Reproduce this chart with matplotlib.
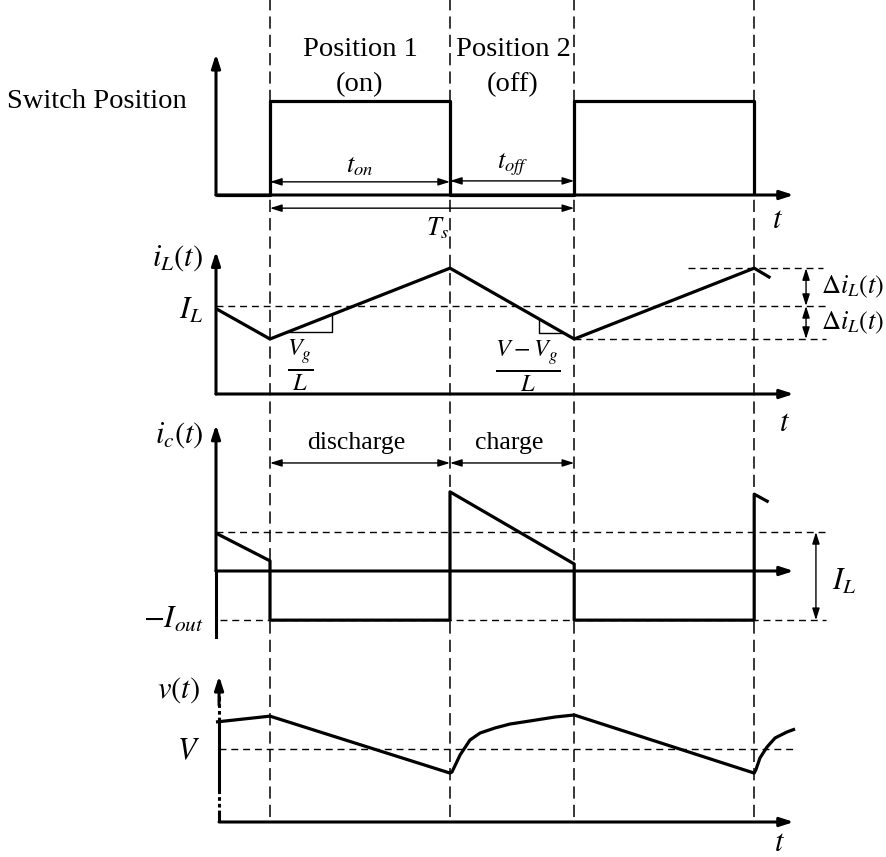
import matplotlib.pyplot as plt
import numpy as np

plt.rcParams['mathtext.fontset'] = 'stix'
plt.rcParams['font.family'] = ['Liberation Serif', 'DejaVu Serif']

W, H = 886, 857

# switching instants, time unit = t_on
edges = [0.3, 1.3, 1.99, 2.99]
t_axis_end = 3.21

# switch position (0 = off, 1 = on)
sw_t = [0.0, 0.3, 0.3, 1.3, 1.3, 1.99, 1.99, 2.99, 2.99]
sw_val = [0, 0, 1, 1, 0, 0, 1, 1, 0]

# inductor current, normalised to I_L
il_t = [0.0, 0.3, 1.3, 1.99, 2.99, 3.08]
il_val = [0.97, 0.625, 1.43, 0.625, 1.43, 1.32]
il_avg, il_max, il_min = 1.0, 1.43, 0.625

# capacitor current, normalised to I_L
ic_t = [0.0, 0.3, 0.3, 1.3, 1.3, 1.99, 1.99, 2.99, 2.99, 3.07]
ic_val = [0.97, 0.26, -1.26, -1.26, 2.03, 0.18, -1.26, -1.26, 1.97, 1.77]
ic_il, ic_iout = 1.0, -1.26

# output voltage, normalised to V
v_t1 = [0.0, 0.3, 1.3, 1.311, 1.356, 1.411, 1.467, 1.55, 1.633, 1.744,
        1.883, 1.99]
v_val1 = [1.37, 1.45, 0.67, 0.685, 0.918, 1.123, 1.219, 1.288, 1.342, 1.384,
          1.438, 1.466]
v_t2 = [1.99, 2.99, 3.0, 3.022, 3.061, 3.106, 3.172, 3.217]
v_val2 = [1.466, 0.67, 0.72, 0.877, 1.027, 1.151, 1.233, 1.274]
v_avg = 1.0

fig = plt.figure(figsize=(W / 100, H / 100), dpi=100)


def panel(base_px, px_per_unit):
    # full-figure transparent axes: time on x, panel units on y
    ax = fig.add_axes([0, 0, 1, 1])
    ax.set_xlim(-216 / 180, (W - 216) / 180)
    ax.set_ylim((base_px - H) / px_per_unit, base_px / px_per_unit)
    ax.set_axis_off()
    ax.patch.set_visible(False)
    return ax


def arrow(ax, p0, p1, lw=2.2, style='-|>,head_length=0.8,head_width=0.26'):
    ax.annotate('', xy=p1, xytext=p0,
                arrowprops=dict(arrowstyle=style, lw=lw, color='k',
                                shrinkA=0, shrinkB=0))


def dbl(ax, p0, p1):
    arrow(ax, p0, p1, lw=1.0,
          style='<|-|>,head_length=0.7,head_width=0.22')


wave = dict(color='k', lw=2.3, solid_joinstyle='round',
            solid_capstyle='butt')
hdash = dict(color='k', lw=1.0, ls=(0, (5, 3.5)))
msize = 22
ssize = 19
tsize = 20.5

ax1 = panel(195, 94)
ax2 = panel(394, 88)
ax3 = panel(571, 39)
ax4 = panel(822, 73)

# vertical dashed lines at switching instants
for t in edges:
    ax1.axvline(t, ymin=40 / H, ymax=1, color='k', lw=1.1, ls=(0, (8, 4)))

# ---- switch position
arrow(ax1, (0, 0), (0, 1.5))
arrow(ax1, (0, 0), (t_axis_end, 0))
ax1.plot(sw_t, sw_val, **wave)
ax1.text(-1.16, 1.0, 'Switch Position', fontsize=tsize, va='center',
         ha='left')
ax1.text(0.8, 1.55, 'Position 1', fontsize=tsize, ha='center', va='center')
ax1.text(0.8, 1.17, '(on)', fontsize=tsize, ha='center', va='center')
ax1.text(1.65, 1.55, 'Position 2', fontsize=tsize, ha='center', va='center')
ax1.text(1.65, 1.17, '(off)', fontsize=tsize, ha='center', va='center')
dbl(ax1, (edges[0], 0.14), (edges[1], 0.14))
dbl(ax1, (edges[1], 0.15), (edges[2], 0.15))
dbl(ax1, (edges[0], -0.14), (edges[2], -0.14))
ax1.text(0.8, 0.3, r'$t_{on}$', fontsize=ssize, ha='center', va='center')
ax1.text(1.65, 0.32, r'$t_{off}$', fontsize=ssize, ha='center', va='center')
ax1.text(1.23, -0.35, r'$T_s$', fontsize=ssize, ha='center', va='center')
ax1.text(3.12, -0.27, r'$t$', fontsize=msize, ha='center', va='center')

# ---- inductor current
arrow(ax2, (0, 0), (0, 1.62))
arrow(ax2, (0, 0), (t_axis_end, 0))
ax2.plot([0, 3.39], [il_avg, il_avg], **hdash)
ax2.plot([2.62, 3.37], [il_max, il_max], **hdash)
ax2.plot([edges[2], 3.39], [il_min, il_min], **hdash)
ax2.plot(il_t, il_val, **wave)
# slope triangles
c1t, c1v = 0.644, 0.705
h1 = np.interp(c1v, [il_val[1], il_val[2]], [il_t[1], il_t[2]])
ax2.plot([h1, c1t, c1t], [c1v, c1v, np.interp(c1t, il_t[1:3], il_val[1:3])],
         color='k', lw=1.0)
c2t, c2v = 1.794, 0.693
h2 = np.interp(c2v, [il_val[3], il_val[2]], [il_t[3], il_t[2]])
ax2.plot([h2, c2t, c2t], [c2v, c2v, np.interp(c2t, il_t[2:4], il_val[2:4])],
         color='k', lw=1.0)
ax2.text(0.47, 0.33, r'$\frac{V_g}{L}$', fontsize=25, ha='center',
         va='center')
ax2.text(1.73, 0.31, r'$\frac{V-V_g}{L}$', fontsize=25, ha='center',
         va='center')
dbl(ax2, (3.278, il_max), (3.278, il_avg))
dbl(ax2, (3.278, il_avg), (3.278, il_min))
ax2.text(3.36, 1.22, r'$\Delta i_L(t)$', fontsize=ssize, va='center')
ax2.text(3.36, 0.81, r'$\Delta i_L(t)$', fontsize=ssize, va='center')
ax2.text(-0.07, 1.54, r'$i_L(t)$', fontsize=msize, ha='right', va='center')
ax2.text(-0.07, 0.94, r'$I_L$', fontsize=msize, ha='right', va='center')
ax2.text(3.16, -0.33, r'$t$', fontsize=msize, ha='center', va='center')

# ---- capacitor current
ax3.plot([0, 0], [-1.7, 0], color='k', lw=2.2)
arrow(ax3, (0, 0), (0, 3.75))
arrow(ax3, (0, 0), (t_axis_end, 0))
ax3.plot([0, 3.39], [ic_il, ic_il], **hdash)
ax3.plot([0.02, 3.39], [ic_iout, ic_iout], **hdash)
ax3.plot(ic_t, ic_val, **wave)
dbl(ax3, (edges[0], 2.77), (edges[1], 2.77))
dbl(ax3, (edges[1], 2.77), (edges[2], 2.77))
ax3.text(0.78, 3.28, 'discharge', fontsize=18.5, ha='center', va='center')
ax3.text(1.63, 3.28, 'charge', fontsize=18.5, ha='center', va='center')
dbl(ax3, (3.333, ic_il), (3.333, ic_iout))
ax3.text(3.42, -0.28, r'$I_L$', fontsize=msize, va='center')
ax3.text(-0.07, 3.48, r'$i_c(t)$', fontsize=msize, ha='right', va='center')
ax3.text(-0.07, ic_iout, r'$-I_{out}$', fontsize=msize, ha='right',
         va='center')

# ---- output voltage (dash-dot broken vertical axis)
ax4.plot([0.017, 0.017], [0, 1.72], color='k', lw=2.2,
         ls=(0, (3.9, 1, 1.2, 1, 1.2, 1, 25, 1, 1.2, 1, 1.2, 1, 10)))
arrow(ax4, (0.017, 1.6), (0.017, 2.0))
arrow(ax4, (0.017, 0), (t_axis_end, 0))
ax4.plot([0.017, 3.217], [v_avg, v_avg], **hdash)
ax4.plot(v_t1, v_val1, **wave)
ax4.plot(v_t2, v_val2, **wave)
ax4.text(-0.09, 1.8, r'$v(t)$', fontsize=msize, ha='right', va='center')
ax4.text(-0.09, 0.96, r'$V$', fontsize=msize, ha='right', va='center')
ax4.text(3.13, -0.3, r'$t$', fontsize=msize, ha='center', va='center')

fig.savefig('out.png', dpi=100)
